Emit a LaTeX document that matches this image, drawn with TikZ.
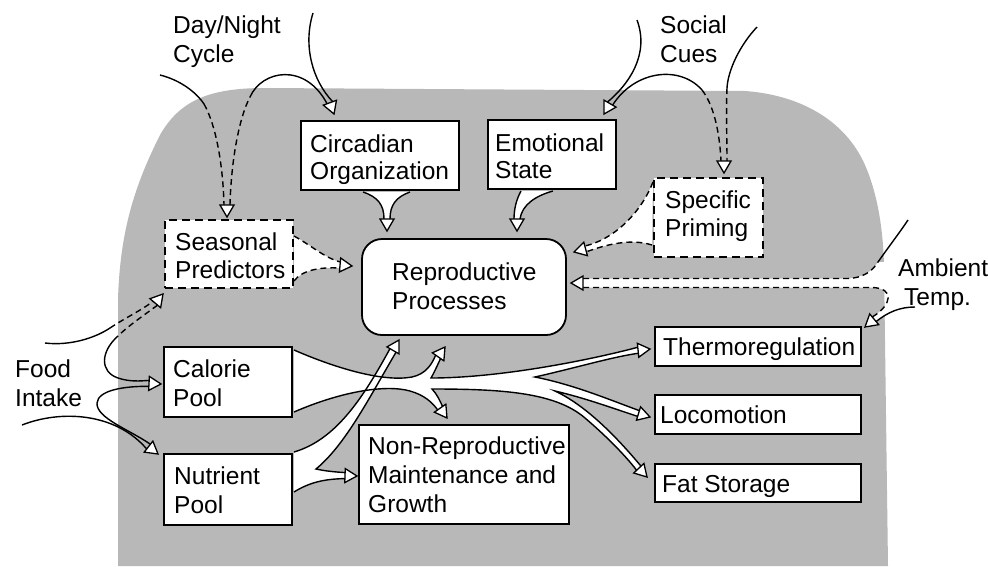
\documentclass[tikz,border=0pt]{standalone}
\usepackage{fontspec}
\setmainfont{Liberation Sans}
\usetikzlibrary{calc}
\definecolor{bgray}{gray}{0.72}
% arrow tip geometry: name, apex, screen angle, half band width
\newcommand\mkTip[4]{%
  \coordinate (#1) at (#2);
  \coordinate (#1-a) at ($(#2)+(#3+180:12)+(#3-90:#4)$);
  \coordinate (#1-b) at ($(#2)+(#3+180:12)+(#3+90:#4)$);
  \coordinate (#1-l) at ($(#2)+(#3+180:12)+(#3-90:7)$);
  \coordinate (#1-r) at ($(#2)+(#3+180:12)+(#3+90:7)$);
}
\newcommand\putTip[1]{\filldraw[tipst] (#1) -- (#1-l) -- (#1-r) -- cycle;}
\begin{document}
\begin{tikzpicture}[x=1pt,y=-1pt,
  box/.style={draw, line width=1.8pt, fill=white, inner sep=0pt},
  dbox/.style={box, dash pattern=on 8pt off 5pt},
  txt/.style={font=\fontsize{24.5}{29}\selectfont, inner sep=0pt, anchor=base west},
  flow/.style={line width=1.4pt},
  dflow/.style={flow, dash pattern=on 6pt off 4pt},
  band/.style={fill=white},
  tipst/.style={fill=white, draw, line width=1.3pt, line join=miter}]

\useasboundingbox (0,0) rectangle (988,566);
\fill[white] (0,0) rectangle (988,566);
% stippled background region
\fill[bgray] (118,566) -- (118,300) .. controls (120,230) and (135,185) .. (160,135)
  .. controls (180,100) and (210,88) .. (265,88) -- (745,91)
  .. controls (800,95) and (845,120) .. (865,165)
  .. controls (878,195) and (883,230) .. (884,265) -- (888,566) -- cycle;

% boxes
\node[box, minimum width=158pt, minimum height=69pt] (circ) at (380,155.5) {};
\node[box, minimum width=128pt, minimum height=69pt] (emo) at (552,154.5) {};
\node[dbox, minimum width=128pt, minimum height=68pt] (sea) at (229,254) {};
\node[dbox, minimum width=109pt, minimum height=79pt] (pri) at (708.5,217.5) {};
\node[box, rounded corners=20pt, minimum width=204pt, minimum height=96pt] (rep) at (464,287) {};
\node[box, minimum width=128pt, minimum height=70pt] (cal) at (228,382) {};
\node[box, minimum width=128pt, minimum height=71pt] (nut) at (228,489.5) {};
\node[box, minimum width=210pt, minimum height=99pt] (non) at (464,474.5) {};
\node[box, minimum width=206pt, minimum height=39pt] (the) at (758,346.5) {};
\node[box, minimum width=206pt, minimum height=39pt] (loc) at (758,414.5) {};
\node[box, minimum width=206pt, minimum height=38pt] (fat) at (758,483) {};

% tips
\mkTip{tSea}{227,217}{90}{3}
\mkTip{tCir}{334,114}{70}{3}
\mkTip{tEmo}{604,114}{120}{3}
\mkTip{tPri}{724,173}{90}{3}
\mkTip{tRepC}{387,231}{90}{3}
\mkTip{tRepE}{517,231}{90}{3}
\mkTip{tRepS}{352,266}{5}{3}
\mkTip{tRepP}{574,252}{165}{3}
\mkTip{tRepA}{571,283}{180}{4.5}
\mkTip{tThe}{865,327}{140}{3}
\mkTip{tSeaF}{163,294}{-50}{3}
\mkTip{tCalF}{161,384}{3}{3}
\mkTip{tNutF}{158,454}{38}{3}
\mkTip{tRepCal}{445,347}{-55}{3}
\mkTip{tNonCal}{447,418}{55}{3}
\mkTip{tThermo}{650,349}{-6}{3}
\mkTip{tLoco}{650,417}{17}{3}
\mkTip{tFat}{647,477}{47}{3}
\mkTip{tRepNut}{399,340}{-60}{3.5}
\mkTip{tNonNut}{357,476}{2}{3}
\coordinate (V1) at (431,378);
\coordinate (V2) at (432,389);
\coordinate (V3) at (535,377);
\coordinate (V4) at (555,391);
\coordinate (V5) at (316,469);

% white band fills
\fill[band] (363,192) .. controls (378,197) and (384,205) .. (tRepC-b) -- (tRepC-a) .. controls (390,205) and (396,197) .. (410,192) -- cycle;
\fill[band] (521,191) .. controls (516,200) and (514,210) .. (tRepE-b) -- (tRepE-a) .. controls (522,205) and (535,196) .. (553,191) -- cycle;
\fill[band] (294,236) .. controls (312,246) and (325,258) .. (tRepS-a) -- (tRepS-b) .. controls (320,267) and (302,270) .. (294,281) -- cycle;
\fill[band] (653,182) .. controls (640,215) and (612,240) .. (tRepP-b) -- (tRepP-a) .. controls (605,245) and (630,238) .. (652,245) -- cycle;
\fill[band] (tRepA-b) -- (848,278.5) .. controls (862,278) and (872,272) .. (878,262) -- (905,262) -- (915,287) -- (915,307)
  .. controls (900,307) and (888,312) .. (tThe-a) -- (tThe-b) .. controls (892,305) and (895,288) .. (872,287.5) -- (tRepA-a) -- cycle;
\fill[band] (294,350) .. controls (340,370) and (385,382) .. (412,377) .. controls (426,374) and (432,364) .. (tRepCal-a)
  -- (tRepCal-b) .. controls (437,366) and (434,373) .. (V1) .. controls (500,378) and (590,360) .. (tThermo-a)
  -- (tThermo-b) .. controls (612,357) and (575,368) .. (V3) .. controls (575,385) and (610,400) .. (tLoco-a)
  -- (tLoco-b) .. controls (612,408) and (585,398) .. (V4) .. controls (585,405) and (615,435) .. (tFat-a)
  -- (tFat-b) .. controls (625,455) and (605,435) .. (585,418) .. controls (555,392) and (500,389) .. (V2)
  .. controls (437,394) and (440,401) .. (tNonCal-a) -- (tNonCal-b) .. controls (432,402) and (424,395) .. (410,391)
  .. controls (385,384) and (340,392) .. (294,412) -- cycle;
\fill[band] (294,452) .. controls (335,440) and (362,400) .. (tRepNut-a) -- (tRepNut-b) .. controls (368,400) and (345,445) .. (V5)
  .. controls (325,471) and (335,472) .. (tNonNut-a) -- (tNonNut-b) .. controls (325,479) and (310,482) .. (294,492) -- cycle;

% Day/Night cycle
\draw[flow] (160,75) .. controls (180,80) and (196,92) .. (204,104);
\draw[dflow] (204,104) .. controls (216,125) and (223,165) .. (tSea-b);
\draw[dflow] (tSea-a) .. controls (231,165) and (238,120) .. (250,97);
\draw[flow] (250,97) .. controls (262,70) and (305,62) .. (tCir-b);
\draw[flow] (313,13) .. controls (303,45) and (312,80) .. (tCir-a);
% Social cues
\draw[flow] (637,20) .. controls (650,55) and (628,85) .. (tEmo-b);
\draw[flow] (tEmo-a) .. controls (635,70) and (680,65) .. (702,90);
\draw[dflow] (702,90) .. controls (716,108) and (720,140) .. (tPri-b);
\draw[flow] (757,27) .. controls (740,45) and (728,70) .. (727,88);
\draw[dflow] (727,88) .. controls (726,110) and (727,140) .. (tPri-a);
% into Reproductive Processes
\draw[flow] (363,192) .. controls (378,197) and (384,205) .. (tRepC-b);
\draw[flow] (410,192) .. controls (396,197) and (390,205) .. (tRepC-a);
\draw[flow] (521,191) .. controls (516,200) and (514,210) .. (tRepE-b);
\draw[flow] (553,191) .. controls (535,196) and (522,205) .. (tRepE-a);
\draw[dflow] (294,236) .. controls (312,246) and (325,258) .. (tRepS-a);
\draw[dflow] (294,281) .. controls (302,270) and (320,267) .. (tRepS-b);
\draw[dflow] (653,182) .. controls (640,215) and (612,240) .. (tRepP-b);
\draw[dflow] (652,245) .. controls (630,238) and (605,245) .. (tRepP-a);
% Ambient temperature
\draw[dflow] (tRepA-b) -- (848,278.5) .. controls (862,278) and (872,272) .. (878,262);
\draw[flow] (878,262) .. controls (890,245) and (900,232) .. (908,220);
\draw[dflow] (tRepA-a) -- (872,287.5) .. controls (895,288) and (892,305) .. (tThe-b);
\draw[flow] (915,307) .. controls (900,307) and (888,312) .. (tThe-a);
% Food intake
\draw[flow] (45,343) .. controls (70,346) and (95,338) .. (110,328);
\draw[dflow] (110,328) .. controls (125,318) and (142,310) .. (tSeaF-a);
\draw[dflow] (tSeaF-b) .. controls (140,318) and (127,327) .. (118,336);
\draw[flow] (118,336) .. controls (100,352) and (100,372) .. (118,378) .. controls (130,382) and (140,381) .. (tCalF-a);
\draw[flow] (tCalF-b) .. controls (125,386) and (98,390) .. (97,403) .. controls (96,418) and (130,430) .. (tNutF-a);
\draw[flow] (22,425) .. controls (60,410) and (115,412) .. (tNutF-b);
% Calorie pool
\draw[flow] (294,350) .. controls (340,370) and (385,382) .. (412,377) .. controls (426,374) and (432,364) .. (tRepCal-a);
\draw[flow] (tRepCal-b) .. controls (437,366) and (434,373) .. (V1) .. controls (500,378) and (590,360) .. (tThermo-a);
\draw[flow] (tThermo-b) .. controls (612,357) and (575,368) .. (V3) .. controls (575,385) and (610,400) .. (tLoco-a);
\draw[flow] (tLoco-b) .. controls (612,408) and (585,398) .. (V4) .. controls (585,405) and (615,435) .. (tFat-a);
\draw[flow] (tFat-b) .. controls (625,455) and (605,435) .. (585,418) .. controls (555,392) and (500,389) .. (V2) .. controls (437,394) and (440,401) .. (tNonCal-a);
\draw[flow] (tNonCal-b) .. controls (432,402) and (424,395) .. (410,391) .. controls (385,384) and (340,392) .. (294,412);
% Nutrient pool
\draw[flow] (294,452) .. controls (335,440) and (362,400) .. (tRepNut-a);
\draw[flow] (tRepNut-b) .. controls (368,400) and (345,445) .. (V5) .. controls (325,471) and (335,472) .. (tNonNut-a);
\draw[flow] (294,492) .. controls (310,482) and (325,479) .. (tNonNut-b);

% arrow heads
\foreach \t in {tSea,tCir,tEmo,tPri,tRepC,tRepE,tRepS,tRepP,tRepA,tThe,tSeaF,tCalF,tNutF,tRepCal,tNonCal,tThermo,tLoco,tFat,tRepNut,tNonNut}{\putTip{\t}}

% texts
\node[txt] (dn1) at (173,33) {Day/Night};
\node[txt] (dn2) at (173,62) {Cycle};
\node[txt] (sc1) at (660,33) {Social};
\node[txt] (sc2) at (660,62) {Cues};
\node[txt] (ci1) at (310,152) {Circadian};
\node[txt] (ci2) at (310,179) {Organization};
\node[txt] (em1) at (495,151) {Emotional};
\node[txt] (em2) at (495,178) {State};
\node[txt] (se1) at (175,250) {Seasonal};
\node[txt] (se2) at (175,278) {Predictors};
\node[txt] (pr1) at (665,208) {Specific};
\node[txt] (pr2) at (665,236) {Priming};
\node[txt] (re1) at (392,280) {Reproductive};
\node[txt] (re2) at (392,309) {Processes};
\node[txt] (am1) at (898,276) {Ambient};
\node[txt] (am2) at (904,305) {Temp.};
\node[txt] (fo1) at (15,377) {Food};
\node[txt] (fo2) at (15,406) {Intake};
\node[txt] (ca1) at (173,377) {Calorie};
\node[txt] (ca2) at (173,406) {Pool};
\node[txt] (nu1) at (174,484) {Nutrient};
\node[txt] (nu2) at (174,513) {Pool};
\node[txt] (no1) at (368,454) {Non-Reproductive};
\node[txt] (no2) at (368,483) {Maintenance and};
\node[txt] (no3) at (368,512) {Growth};
\node[txt] (th1) at (663,355) {Thermoregulation};
\node[txt] (lo1) at (660,423) {Locomotion};
\node[txt] (fa1) at (662,492) {Fat Storage};
\end{tikzpicture}
\end{document}
